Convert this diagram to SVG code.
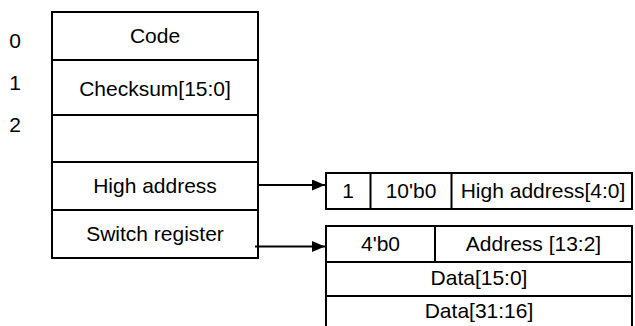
<svg xmlns="http://www.w3.org/2000/svg" width="635" height="326" viewBox="0 0 635 326">
<defs>
<style>
.b{fill:#fff;stroke:#000;stroke-width:2}
.l{stroke:#000;stroke-width:2;fill:none}
text{font-family:"Liberation Sans",Arial,sans-serif;font-size:21px;fill:#000;text-anchor:middle}
</style>
<marker id="ah" viewBox="0 0 13 11" refX="13" refY="5.5" markerWidth="13" markerHeight="11" markerUnits="userSpaceOnUse" orient="auto">
<path d="M0,0 L13,5.5 L0,11 Z" fill="#000"/>
</marker>
</defs>
<g id="labels">
<text x="15" y="48">0</text>
<text x="15" y="90">1</text>
<text x="15" y="132">2</text>
</g>
<g id="memory">
<rect class="b" x="52" y="12" width="206" height="246"/>
<line class="l" x1="52" y1="60" x2="258" y2="60"/>
<line class="l" x1="52" y1="115" x2="258" y2="115"/>
<line class="l" x1="52" y1="162" x2="258" y2="162"/>
<line class="l" x1="52" y1="210" x2="258" y2="210"/>
<text x="155" y="43">Code</text>
<text x="155" y="96">Checksum[15:0]</text>
<text x="155" y="193">High address</text>
<text x="155" y="241">Switch register</text>
</g>
<g id="highaddr">
<rect class="b" x="326" y="173" width="306" height="36"/>
<line class="l" x1="370.5" y1="173" x2="370.5" y2="209"/>
<line class="l" x1="451.5" y1="173" x2="451.5" y2="209"/>
<text x="348" y="198">1</text>
<text x="411" y="198">10'b0</text>
<text x="543" y="198">High address[4:0]</text>
</g>
<g id="switchreg">
<rect class="b" x="326" y="226" width="306" height="106"/>
<line class="l" x1="326" y1="262" x2="632" y2="262"/>
<line class="l" x1="326" y1="296" x2="632" y2="296"/>
<line class="l" x1="435" y1="226" x2="435" y2="262"/>
<text x="380.5" y="251">4'b0</text>
<text x="533.5" y="251">Address [13:2]</text>
<text x="479" y="285">Data[15:0]</text>
<text x="479" y="318">Data[31:16]</text>
</g>
<g id="connectors">
<line class="l" x1="258" y1="185" x2="325" y2="185" marker-end="url(#ah)"/>
<line class="l" x1="255" y1="246.5" x2="325" y2="246.5" marker-end="url(#ah)"/>
</g>
</svg>
